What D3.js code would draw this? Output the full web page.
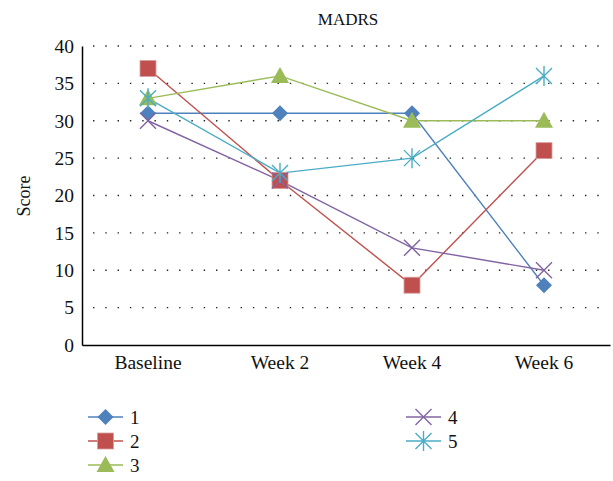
<!DOCTYPE html>
<html><head><meta charset="utf-8">
<script src="https://cdn.jsdelivr.net/npm/d3@7"></script>
<style>body{margin:0;background:#fff}svg{display:block}text{font-family:"Liberation Serif","DejaVu Serif",serif;fill:#111}</style>
</head><body><svg id="c" width="613" height="481"></svg>
<script>
const categories = ["Baseline","Week 2","Week 4","Week 6"];
const seriesNames = ["1","2","3","4","5"];
const s1 = [31,31,31,8];
const s2 = [37,22,8,26];
const s3 = [33,36,30,30];
const s4 = [30,22,13,10];
const s5 = [33,23,25,36];
const yTicks = [0,5,10,15,20,25,30,35,40];
const colors = ["#4F81BD","#C0504D","#9BBB59","#8064A2","#4BACC6"];
const markers = ["diamond","square","triangle","x","star"];
const seriesValues = [s1,s2,s3,s4,s5];

const svg = d3.select("#c");
const L=82, R=610, T=46, B=345;
const x = d3.scaleBand().domain(categories).range([L,R]);
const y = d3.scaleLinear().domain([0,40]).range([B,T]);

// gridlines
svg.append("g").selectAll("line").data(yTicks.filter(d=>d>0)).join("line")
  .attr("x1",L+11).attr("x2",R-2).attr("y1",d=>y(d)).attr("y2",d=>y(d))
  .attr("stroke","#222").attr("stroke-width",1.4).attr("stroke-dasharray","1.4 10.9");

// axes
const ya = svg.append("g").attr("transform",`translate(${L},0)`)
  .call(d3.axisLeft(y).tickValues(yTicks).tickSize(0).tickPadding(8));
ya.select(".domain").attr("stroke","#000").attr("stroke-width",1.5);
ya.selectAll("text").attr("font-size",19.5).style("font-family","Liberation Serif").attr("fill","#111");
const xa = svg.append("g").attr("transform",`translate(0,${B})`)
  .call(d3.axisBottom(x).tickSize(0).tickPadding(10));
xa.select(".domain").attr("stroke","#000").attr("stroke-width",1.5);
xa.selectAll("text").attr("font-size",19.5).style("font-family","Liberation Serif").attr("fill","#111");

svg.append("text").attr("x",348).attr("y",25).attr("text-anchor","middle").attr("font-size",17).text("MADRS");
svg.append("text").attr("transform","translate(30,196) rotate(-90)").attr("text-anchor","middle").attr("font-size",18).text("Score");

function drawMarker(g, type, color){
  if(type==="diamond") g.append("path").attr("d","M0,-8L8,0L0,8L-8,0Z").attr("fill",color);
  else if(type==="square") g.append("rect").attr("x",-8).attr("y",-8).attr("width",16).attr("height",16).attr("fill",color).attr("stroke","#d8a0a0").attr("stroke-width",0.8);
  else if(type==="triangle") g.append("path").attr("d","M0,-9L9,7L-9,7Z").attr("fill",color);
  else if(type==="x") g.append("path").attr("d","M-8,-8L8,8M-8,8L8,-8").attr("stroke",color).attr("stroke-width",1.4);
  else if(type==="star") g.append("path").attr("d","M-8,-8L8,8M-8,8L8,-8M0,-10V10").attr("stroke",color).attr("stroke-width",1.4);
}

const line = d3.line().x((d,i)=>x(categories[i])+x.bandwidth()/2).y(d=>y(d));
seriesValues.forEach((vals,si)=>{
  svg.append("path").attr("d",line(vals)).attr("fill","none").attr("stroke",colors[si]).attr("stroke-width",1.4);
});
seriesValues.forEach((vals,si)=>{
  vals.forEach((v,i)=>{
    const g = svg.append("g").attr("transform",`translate(${x(categories[i])+x.bandwidth()/2},${y(v)})`);
    drawMarker(g, markers[si], colors[si]);
  });
});

// legend
const legPos = [[88,417],[88,441],[88,465],[406,417],[406,441]];
seriesNames.forEach((n,si)=>{
  const [lx,ly] = legPos[si];
  svg.append("line").attr("x1",lx).attr("x2",lx+35).attr("y1",ly).attr("y2",ly).attr("stroke",colors[si]).attr("stroke-width",1.4);
  const g = svg.append("g").attr("transform",`translate(${lx+17.5},${ly})`);
  drawMarker(g, markers[si], colors[si]);
  svg.append("text").attr("x",lx+42).attr("y",ly+7).attr("font-size",19).text(n);
});
</script></body></html>
